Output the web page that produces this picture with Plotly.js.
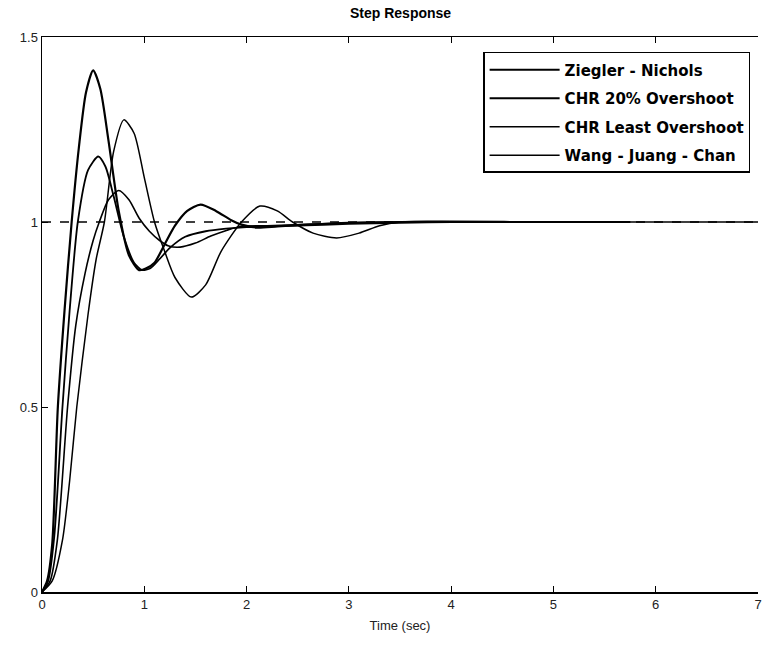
<!DOCTYPE html>
<html>
<head>
<meta charset="utf-8">
<script src="https://cdn.plot.ly/plotly-3.0.1.min.js"></script>
<style>html,body{margin:0;padding:0;background:#fff;overflow:hidden}#plot{width:763px;height:652px}</style>
</head>
<body>
<div id="plot"></div>
<script>
// Series names
var seriesNames = ["Ziegler - Nichols", "CHR 20% Overshoot", "CHR Least Overshoot", "Wang - Juang - Chan"];

// Ziegler - Nichols
var tZN = [0, 0.05, 0.1, 0.155, 0.22, 0.29, 0.36, 0.43, 0.5, 0.57, 0.65, 0.75, 0.85, 0.95, 1.02, 1.1, 1.2, 1.3, 1.42, 1.55, 1.7, 1.85, 1.95, 2.1, 2.3, 2.6, 3.0, 3.5, 4.0, 5.0, 5.75];
var yZN = [0, 0.03, 0.13, 0.5, 0.76, 1.0, 1.2, 1.35, 1.41, 1.36, 1.22, 1.03, 0.91, 0.87, 0.875, 0.89, 0.94, 0.99, 1.03, 1.047, 1.03, 1.005, 0.993, 0.985, 0.988, 0.993, 0.998, 1.0, 1.0, 1.0, 1.0];

// CHR 20% Overshoot
var tC20 = [0, 0.06, 0.12, 0.2, 0.27, 0.35, 0.45, 0.55, 0.62, 0.7, 0.8, 0.9, 0.98, 1.06, 1.15, 1.25, 1.4, 1.6, 1.8, 2.0, 2.5, 3.0, 3.5, 4.0, 5.0, 5.75];
var yC20 = [0, 0.03, 0.15, 0.5, 0.76, 1.0, 1.14, 1.177, 1.15, 1.07, 0.96, 0.89, 0.87, 0.875, 0.9, 0.93, 0.96, 0.975, 0.982, 0.986, 0.99, 0.995, 0.998, 1.0, 1.0, 1.0];

// CHR Least Overshoot
var tCLO = [0, 0.1, 0.2, 0.27, 0.34, 0.45, 0.53, 0.61, 0.7, 0.8, 0.9, 1.0, 1.1, 1.2, 1.3, 1.46, 1.6, 1.75, 1.95, 2.13, 2.3, 2.45, 2.65, 2.88, 3.1, 3.3, 3.5, 4.0, 5.0, 6.0, 7.0];
var yCLO = [0, 0.03, 0.14, 0.3, 0.5, 0.75, 0.9, 1.0, 1.19, 1.276, 1.24, 1.12, 1.0, 0.92, 0.85, 0.797, 0.83, 0.92, 1.0, 1.043, 1.03, 1.0, 0.97, 0.957, 0.97, 0.99, 1.0, 1.002, 1.0, 1.0, 1.0];

// Wang - Juang - Chan
var tWJC = [0, 0.08, 0.15, 0.25, 0.33, 0.42, 0.5, 0.56, 0.65, 0.75, 0.85, 0.95, 1.05, 1.15, 1.24, 1.35, 1.5, 1.65, 1.81, 1.94, 2.2, 2.6, 3.0, 3.5, 4.0, 5.0, 5.75];
var yWJC = [0, 0.03, 0.14, 0.5, 0.72, 0.86, 0.95, 1.0, 1.06, 1.085, 1.06, 1.01, 0.975, 0.95, 0.935, 0.932, 0.943, 0.962, 0.978, 0.988, 0.99, 0.994, 0.998, 1.0, 1.0, 1.0, 1.0];

// Steady-state reference line
var tRef = [0, 7];
var yRef = [1, 1];

var xTicks = [0, 1, 2, 3, 4, 5, 6, 7];
var yTicks = [0, 0.5, 1, 1.5];
var yTickText = ["0", "0.5", "1", "1.5"];

var traces = [
  {x: tZN, y: yZN, name: seriesNames[0], legendgroup: "a", mode: "lines", line: {color: "#000", width: 2.2, shape: "spline", smoothing: 0.7}},
  {x: tC20, y: yC20, name: seriesNames[1], legendgroup: "b", mode: "lines", line: {color: "#000", width: 1.8, shape: "spline", smoothing: 0.7}},
  {x: tCLO, y: yCLO, name: seriesNames[2], legendgroup: "c", mode: "lines", line: {color: "#000", width: 1.5, shape: "spline", smoothing: 0.7}},
  {x: tWJC, y: yWJC, name: seriesNames[3], legendgroup: "d", mode: "lines", line: {color: "#000", width: 1.6, shape: "spline", smoothing: 0.7}},
  {x: tRef, y: yRef, showlegend: false, mode: "lines", line: {color: "#000", width: 1.5, dash: "dash"}, hoverinfo: "skip"}
];

var layout = {
  width: 763, height: 652,
  margin: {l: 42, r: 5, t: 37, b: 60},
  paper_bgcolor: "#fff", plot_bgcolor: "#fff",
  font: {family: "Liberation Sans, Arial, sans-serif", size: 13, color: "#111"},
  title: {text: "<b>Step Response</b>", x: 0.525, xanchor: "center", y: 0.988, yanchor: "top", font: {size: 14, color: "#000"}},
  xaxis: {
    range: [0, 7], tickvals: xTicks, ticks: "inside", ticklen: 6, tickcolor: "#000",
    showline: true, linecolor: "#000", linewidth: 1.5, mirror: "ticks", showgrid: false, zeroline: false,
    tickfont: {size: 13, color: "#222"},
    title: {text: "Time (sec)", font: {size: 13, color: "#222"}, standoff: 10}
  },
  yaxis: {
    range: [0, 1.5], tickvals: yTicks, ticktext: yTickText, ticks: "inside", ticklen: 6, tickcolor: "#000",
    showline: true, linecolor: "#000", linewidth: 1.5, mirror: false, showgrid: false, zeroline: false,
    tickfont: {size: 13, color: "#222"}
  },
  legend: {
    x: 0.989, xanchor: "right", y: 0.973, yanchor: "top",
    bgcolor: "#fff", bordercolor: "#000", borderwidth: 1.5,
    font: {family: "DejaVu Sans, sans-serif", size: 15, color: "#000", weight: "bold"},
    tracegroupgap: 6, itemwidth: 70
  },
  showlegend: true
};

Plotly.newPlot("plot", traces, layout, {displayModeBar: false, staticPlot: true});
</script>
</body>
</html>
